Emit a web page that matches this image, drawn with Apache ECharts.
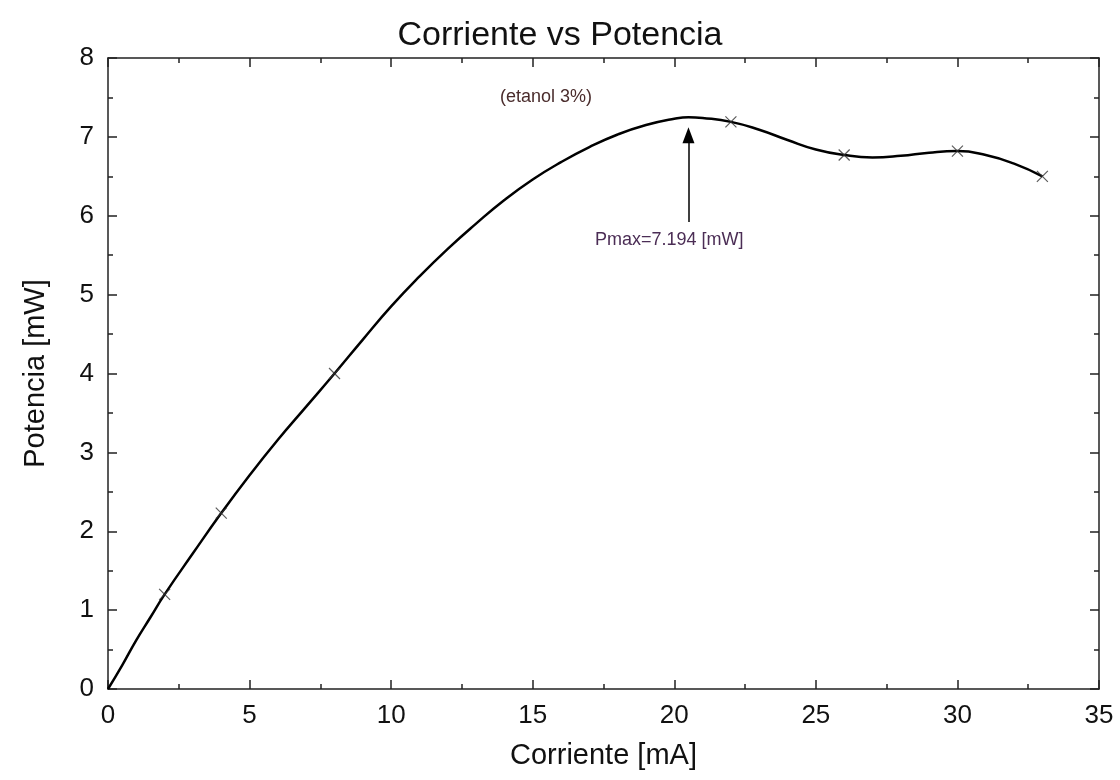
<!DOCTYPE html>
<html>
<head>
<meta charset="utf-8">
<script src="https://cdn.jsdelivr.net/npm/echarts@6/dist/echarts.min.js"></script>
<style>
  html, body { margin: 0; padding: 0; background: #fff; }
  #main { width: 1120px; height: 780px; }
</style>
</head>
<body>
<div id="main"></div>
<script>
// puntos medidos (corriente mA, potencia mW)
const measCurrent = [2, 4, 8, 22, 26, 30, 33];
const measPower = [1.2, 2.23, 4.0, 7.19, 6.77, 6.82, 6.5];

// curva ajustada
const fitCurrent = [0, 0.5, 1, 1.5, 2, 3, 4, 5, 6, 7, 8, 9, 10, 11, 12, 13, 14, 15, 16, 17, 18, 19, 20, 20.5, 21, 22, 23, 24, 25, 26, 27, 28, 29, 30, 31, 32, 33];
const fitPower = [0, 0.3, 0.62, 0.91, 1.2, 1.72, 2.23, 2.71, 3.16, 3.58, 4.0, 4.43, 4.85, 5.23, 5.58, 5.9, 6.2, 6.46, 6.68, 6.87, 7.03, 7.15, 7.23, 7.25, 7.24, 7.19, 7.09, 6.96, 6.84, 6.77, 6.74, 6.76, 6.8, 6.82, 6.77, 6.66, 6.5];

const xTicks = [0, 5, 10, 15, 20, 25, 30, 35];
const yTicks = [0, 1, 2, 3, 4, 5, 6, 7, 8];

const font = 'Liberation Sans, Arial, sans-serif';

const chart = echarts.init(document.getElementById('main'));

const baseAxis = {
  axisLine: { show: true, onZero: false, lineStyle: { color: '#222', width: 1.5 } },
  axisTick: { show: true, inside: true, length: 9, lineStyle: { color: '#222', width: 1.5 } },
  minorTick: { show: true, splitNumber: 2, length: 5, lineStyle: { color: '#222', width: 1.5 } },
  splitLine: { show: false }
};

const option = {
  backgroundColor: '#fff',
  animation: false,
  title: {
    text: 'Corriente vs Potencia',
    left: 'center',
    top: 14,
    textStyle: { fontFamily: font, fontSize: 34, fontWeight: 'normal', color: '#111' }
  },
  grid: { left: 108, right: 21, top: 58, bottom: 91 },
  xAxis: [{
    ...baseAxis,
    type: 'value',
    min: xTicks[0],
    max: xTicks[xTicks.length - 1],
    interval: 5,
    name: 'Corriente [mA]',
    nameLocation: 'middle',
    nameGap: 52,
    nameTextStyle: { fontFamily: font, fontSize: 29, color: '#111' },
    axisLabel: { fontFamily: font, fontSize: 26, color: '#111', margin: 14 }
  }, {
    ...baseAxis,
    type: 'value',
    position: 'top',
    min: xTicks[0],
    max: xTicks[xTicks.length - 1],
    interval: 5,
    axisLabel: { show: false }
  }],
  yAxis: [{
    ...baseAxis,
    type: 'value',
    min: yTicks[0],
    max: yTicks[yTicks.length - 1],
    interval: 1,
    name: 'Potencia [mW]',
    nameLocation: 'middle',
    nameGap: 58,
    nameTextStyle: { fontFamily: font, fontSize: 29, color: '#111' },
    axisLabel: { fontFamily: font, fontSize: 26, color: '#111', margin: 14 }
  }, {
    ...baseAxis,
    type: 'value',
    position: 'right',
    min: yTicks[0],
    max: yTicks[yTicks.length - 1],
    interval: 1,
    axisLabel: { show: false }
  }],
  series: [{
    type: 'line',
    data: fitCurrent.map((x, i) => [x, fitPower[i]]),
    smooth: true,
    showSymbol: false,
    lineStyle: { color: '#000', width: 2.5 },
    z: 3,
    markLine: {
      silent: true,
      symbol: ['none', 'triangle'],
      symbolSize: [12, 16],
      lineStyle: { color: '#000', width: 1.5, type: 'solid' },
      label: { show: false },
      data: [[{ coord: [20.5, 5.92] }, { coord: [20.5, 7.02] }]]
    }
  }, {
    type: 'scatter',
    data: measCurrent.map((x, i) => [x, measPower[i]]),
    symbol: 'path://M0,0L10,10M10,0L0,10',
    symbolSize: 11,
    itemStyle: { color: 'none', borderColor: '#333', borderWidth: 1.2 },
    z: 4
  }],
  graphic: [{
    type: 'text',
    left: 500,
    top: 88,
    style: { text: '(etanol 3%)', font: '18px ' + font, fill: '#4a2c2c' }
  }, {
    type: 'text',
    left: 595,
    top: 231,
    style: { text: 'Pmax=7.194 [mW]', font: '18px ' + font, fill: '#4b2d55' }
  }]
};

chart.setOption(option);
</script>
</body>
</html>
